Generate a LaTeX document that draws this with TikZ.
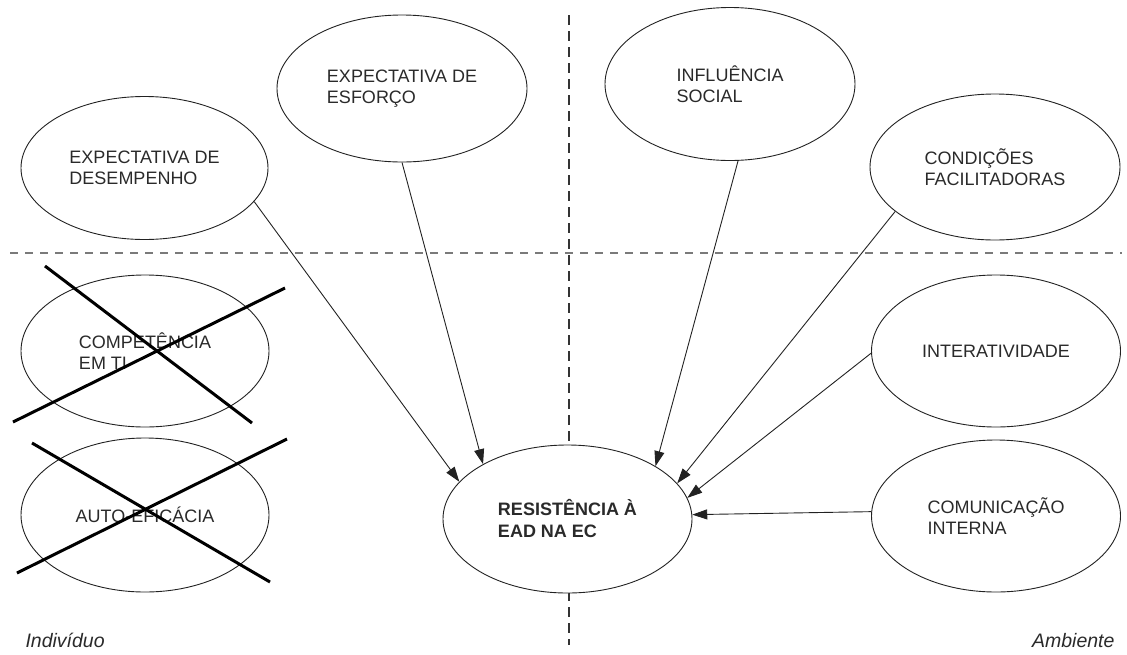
\documentclass[tikz,border=0pt]{standalone}
\usepackage{fontspec}
\setmainfont{Liberation Sans}
\usetikzlibrary{shapes.geometric,arrows.meta}
\definecolor{inkline}{HTML}{222222}
\definecolor{inktext}{HTML}{2A2A2A}
\definecolor{hdash}{HTML}{7A7A7A}
\definecolor{vdash}{HTML}{333333}
\tikzset{
  construct/.style={ellipse, draw=inkline, line width=0.9pt, fill=white,
    inner sep=0pt, align=left, text=inktext,
    font=\fontsize{18}{21}\selectfont},
  link/.style={draw=inkline, line width=0.9pt,
    -{Triangle[length=15pt,width=10pt]}},
  strike/.style={draw=black, line width=3pt},
  region/.style={text=inktext, font=\fontsize{19.5}{22}\selectfont\itshape},
}
\begin{document}
\begin{tikzpicture}[x=1pt,y=-1pt]
\useasboundingbox (0,0) rectangle (1127,654);

% dividing lines between the quadrants
\draw[hdash, line width=2pt, dash pattern=on 8pt off 7pt] (10,253) -- (1122,253);
\draw[vdash, line width=1.5pt, dash pattern=on 10pt off 6pt] (569,15) -- (569,645);

% constructs
\node[construct, minimum width=247pt, minimum height=143pt] (des) at (144.5,168) {EXPECTATIVA DE\\DESEMPENHO};
\node[construct, minimum width=250pt, minimum height=147pt] (esf) at (402,88.5) {EXPECTATIVA DE\\ESFORÇO};
\node[construct, minimum width=250pt, minimum height=153pt] (inf) at (730,84) {INFLUÊNCIA\\SOCIAL};
\node[construct, minimum width=250pt, minimum height=146pt] (con) at (995,167) {CONDIÇÕES\\FACILITADORAS};
\node[construct, minimum width=248pt, minimum height=152pt] (comp) at (145,351) {COMPETÊNCIA\\EM TI};
\node[construct, minimum width=248pt, minimum height=154pt] (auto) at (145,515) {AUTO-EFICÁCIA};
\node[construct, minimum width=249pt, minimum height=148pt, font=\fontsize{18}{22}\selectfont\bfseries] (res) at (567.5,519) {RESISTÊNCIA À\\EAD NA EC};
\node[construct, minimum width=249pt, minimum height=152pt] (int) at (996,351) {INTERATIVIDADE};
\node[construct, minimum width=249pt, minimum height=152pt] (com) at (996,516) {COMUNICAÇÃO\\INTERNA};

% influences on resistance
\draw[link] (des.-17) -- (res.161.5);
\draw[link] (esf.-90) -- (res.147.8);
\draw[link] (inf.-84) -- (res.31.6);
\draw[link] (con.204) -- (res.18.7);
\draw[link] (int.181) -- (res.10.9);
\draw[link] (com.178.6) -- (res.2.8);

% discarded constructs
\draw[strike] (45,266) -- (252,423);
\draw[strike] (13,422) -- (285,288);
\draw[strike] (32,443) -- (270,582);
\draw[strike] (17,573) -- (287,439);

% region labels
\node[region, anchor=base west] (ind) at (22,647) {Indivíduo};
\node[region, anchor=base east] (amb) at (1118,647) {Ambiente};
\end{tikzpicture}
\end{document}
